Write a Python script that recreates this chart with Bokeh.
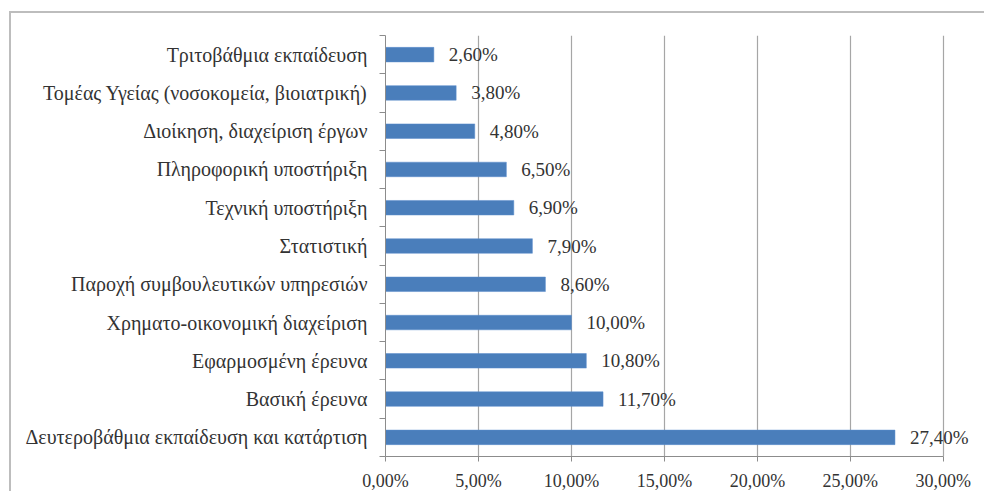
from bokeh.plotting import figure
from bokeh.models import (Range1d, LinearAxis, FixedTicker, ColumnDataSource, LabelSet)
from bokeh.core.properties import value
from bokeh.embed import file_html
from bokeh.resources import INLINE

# categories listed top to bottom as in the chart
categories = [
    "Τριτοβάθμια εκπαίδευση",
    "Τομέας Υγείας (νοσοκομεία, βιοιατρική)",
    "Διοίκηση, διαχείριση έργων",
    "Πληροφορική υποστήριξη",
    "Τεχνική υποστήριξη",
    "Στατιστική",
    "Παροχή συμβουλευτικών υπηρεσιών",
    "Χρηματο-οικονομική διαχείριση",
    "Εφαρμοσμένη έρευνα",
    "Βασική έρευνα",
    "Δευτεροβάθμια εκπαίδευση και κατάρτιση",
]
values = [2.6, 3.8, 4.8, 6.5, 6.9, 7.9, 8.6, 10.0, 10.8, 11.7, 27.4]
x_ticks = [0, 5, 10, 15, 20, 25, 30]
x_tick_labels = ["0,00%", "5,00%", "10,00%", "15,00%", "20,00%", "25,00%", "30,00%"]

FONT = "Liberation Serif, serif"
TXT = "#333333"

n = len(categories)
ypos = [n - i - 0.5 for i in range(n)]          # category slot centres (top = first)
labels = [("%.2f%%" % v).replace(".", ",") for v in values]
src = ColumnDataSource(dict(y=ypos, cat=categories, val=values, lab=labels))

# the frame runs a little past 30% so the last value label is not clipped;
# axis and grid are bounded to 0..30 as in the original
p = figure(width=975, height=480, output_backend="svg", toolbar_location=None,
           y_range=Range1d(0, n), x_range=Range1d(0, 32),
           min_border_left=374, min_border_top=22, min_border_right=6, min_border_bottom=36,
           x_axis_location=None, y_axis_location=None)
p.styles = {"margin-left": "9px", "margin-top": "11px",
            "border-left": "2px solid #bdbdbd", "border-top": "2px solid #bdbdbd"}
p.outline_line_color = None
p.background_fill_color = "white"
p.border_fill_color = "white"

p.hbar(y="y", left=0, right="val", height=0.38, source=src,
       fill_color="#4a7ebb", line_color="#5b8ccc", line_width=0.5)
p.add_layout(LabelSet(x="val", y="y", text="lab", source=src, x_offset=15,
                      text_baseline="middle", text_align="left",
                      text_font=value(FONT), text_font_size=value("19px"),
                      text_color=value(TXT)))

# x axis
xaxis = LinearAxis(ticker=FixedTicker(ticks=x_ticks, minor_ticks=[]), bounds=(0, 30))
xaxis.major_label_overrides = {t: l for t, l in zip(x_ticks, x_tick_labels)}
xaxis.major_label_text_font = FONT
xaxis.major_label_text_font_size = "18px"
xaxis.major_label_text_color = TXT
xaxis.axis_line_color = "#8c8c8c"
xaxis.major_tick_line_color = "#8c8c8c"
xaxis.major_tick_out = 5
xaxis.major_tick_in = 0
xaxis.major_label_standoff = 9
p.add_layout(xaxis, "below")

p.xgrid.ticker = FixedTicker(ticks=x_ticks)
p.xgrid.grid_line_color = "#a6a6a6"
p.xgrid.grid_line_width = 1.2
p.ygrid.visible = False

# y axis: labels at slot centres, tick marks at slot boundaries
yaxis = LinearAxis(ticker=FixedTicker(ticks=ypos, minor_ticks=list(range(n + 1))))
yaxis.major_label_overrides = {y: c for y, c in zip(ypos, categories)}
yaxis.major_label_text_font = FONT
yaxis.major_label_text_font_size = "20px"
yaxis.major_label_text_color = TXT
yaxis.major_tick_line_color = None
yaxis.major_tick_out = 6
yaxis.major_tick_in = 0
yaxis.minor_tick_line_color = "#8c8c8c"
yaxis.minor_tick_out = 6
yaxis.minor_tick_in = 0
yaxis.axis_line_color = "#8c8c8c"
yaxis.major_label_standoff = 12
p.add_layout(yaxis, "left")

open("out.html", "w").write(file_html(p, INLINE))
